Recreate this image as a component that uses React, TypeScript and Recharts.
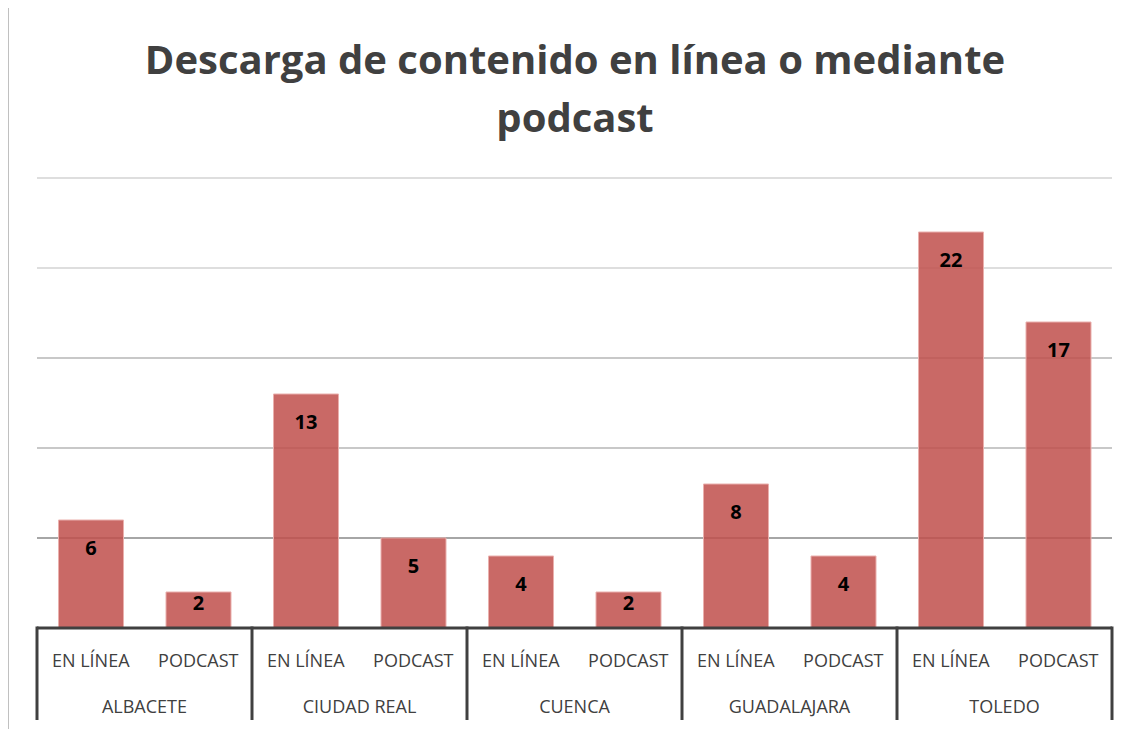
import React from "react";
import { BarChart, Bar, XAxis, YAxis, CartesianGrid, LabelList } from "recharts";

const regions = ["ALBACETE", "CIUDAD REAL", "CUENCA", "GUADALAJARA", "TOLEDO"];
const types = ["EN LÍNEA", "PODCAST"];
const enLinea = [6, 13, 4, 8, 22];
const podcast = [2, 5, 2, 4, 17];
const yTicks = [0, 5, 10, 15, 20, 25];
const gridColors = ["#dedede", "#dedede", "#c8c8c8", "#c8c8c8", "#a6a6a6"];
const gridValues = [25, 20, 15, 10, 5];

const data = regions.flatMap((r, i) => [
  { region: r, type: types[0], value: enLinea[i] },
  { region: r, type: types[1], value: podcast[i] },
]);

const W = 1125;
const H = 721;
const AXIS_H = 46;
const margin = { top: 170, right: 22, bottom: 9, left: 28 };
const plotW = W - margin.left - margin.right;
const plotBottom = H - margin.bottom - 2 * AXIS_H;
const slot = plotW / data.length;
const FONT = "'Open Sans', sans-serif";

const TypeTick = (props: any) => {
  const { x, payload } = props;
  return (
    <text x={x} y={plotBottom + 32} textAnchor="middle" dominantBaseline="central" fill="#404040" fontSize={18} fontFamily={FONT}>
      {payload.value}
    </text>
  );
};

const GroupTick = (props: any) => {
  const { x, payload, index } = props;
  const top = plotBottom - 1.5;
  const bottom = plotBottom + 2 * AXIS_H;
  if (index % 2 !== 0) {
    if (index === data.length - 1) {
      return <line x1={x + slot / 2} x2={x + slot / 2} y1={top} y2={bottom} stroke="#404040" strokeWidth={3} />;
    }
    return null;
  }
  return (
    <g>
      <line x1={x - slot / 2} x2={x - slot / 2} y1={top} y2={bottom} stroke="#404040" strokeWidth={3} />
      <text x={x + slot / 2} y={plotBottom + 78} textAnchor="middle" dominantBaseline="central" fill="#404040" fontSize={18} fontFamily={FONT}>
        {payload.value}
      </text>
    </g>
  );
};

const ValueLabel = (props: any) => {
  const { x, y, width, height, value } = props;
  const dy = height < 50 ? 10 : 27;
  return (
    <text x={x + width / 2} y={y + dy} textAnchor="middle" dominantBaseline="central" fill="#000" fontSize={20} fontWeight={700} fontFamily={FONT}>
      {value}
    </text>
  );
};

export default function App() {
  return (
    <div style={{ position: "relative", width: W + 1, height: H }}>
      <div style={{ position: "absolute", left: 0, top: -1, width: 1126, height: 1, background: "#c0c0c0" }} />
      <div style={{ position: "absolute", left: 0, top: -1, width: 1, height: H + 1, background: "#c0c0c0" }} />
      <div
        style={{
          position: "absolute",
          left: 0,
          top: 22,
          width: 1134,
          textAlign: "center",
          fontFamily: FONT,
          fontWeight: 700,
          fontSize: 40,
          lineHeight: "58px",
          color: "#404040",
        }}
      >
        Descarga de contenido en línea o mediante
        <br />
        podcast
      </div>
      <div style={{ position: "absolute", left: 1, top: 0 }}>
        <BarChart width={W} height={H} data={data} margin={margin} barCategoryGap="20%">
          {gridValues.map((v, i) => (
            <CartesianGrid
              key={v}
              vertical={false}
              stroke={gridColors[i]}
              strokeWidth={2}
              horizontalCoordinatesGenerator={({ offset }: any) => [offset.top + offset.height * (1 - v / 25)]}
            />
          ))}
          <YAxis hide domain={[0, 25]} ticks={yTicks} />
          <XAxis
            dataKey="type"
            xAxisId={0}
            height={AXIS_H}
            tick={<TypeTick />}
            tickLine={false}
            axisLine={{ stroke: "#404040", strokeWidth: 3 }}
            interval={0}
          />
          <XAxis
            dataKey="region"
            xAxisId="group"
            height={AXIS_H}
            tick={<GroupTick />}
            tickLine={false}
            axisLine={false}
            interval={0}
            allowDuplicatedCategory
          />
          <Bar dataKey="value" xAxisId={0} fill="#C0504D" fillOpacity={0.86} stroke="#eab0ad" strokeWidth={1} isAnimationActive={false}>
            <LabelList dataKey="value" content={<ValueLabel />} />
          </Bar>
        </BarChart>
      </div>
    </div>
  );
}
